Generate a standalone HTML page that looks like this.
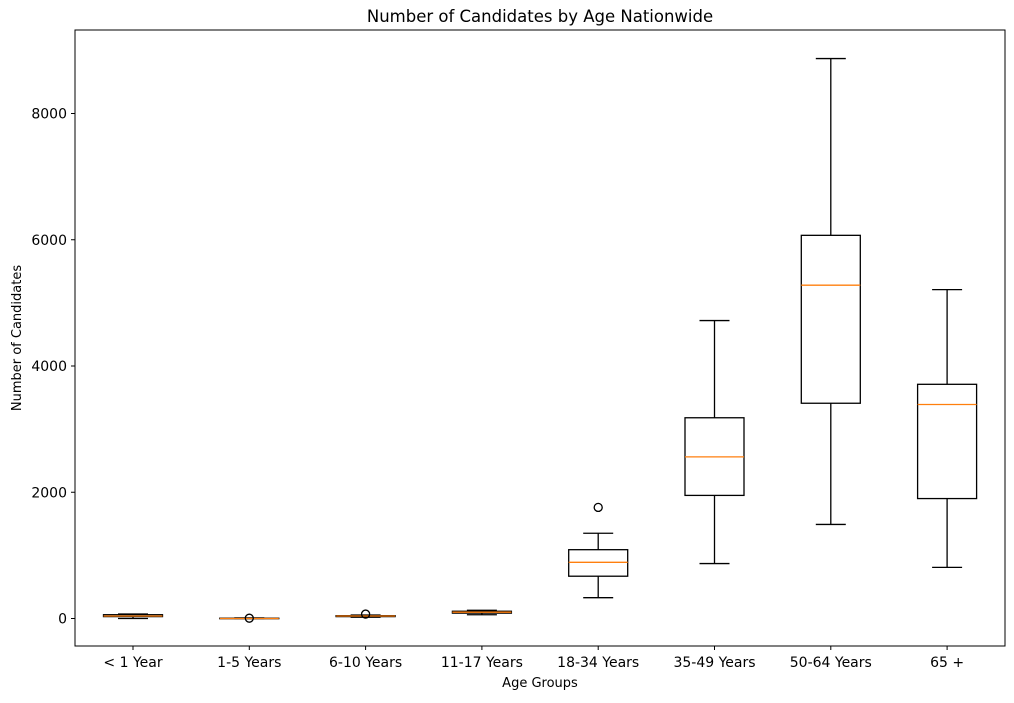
<!DOCTYPE html>
<html><head><meta charset="utf-8"><style>
body{margin:0;background:#fff;font-family:"DejaVu Sans",sans-serif}
</style></head><body>
<svg id="chart" width="1014" height="699" xmlns="http://www.w3.org/2000/svg" font-family="DejaVu Sans, Liberation Sans, sans-serif">
<rect width="1014" height="699" fill="#fff"/>
<text x="540" y="22" text-anchor="middle" font-size="16.5">Number of Candidates by Age Nationwide</text>
<text x="540" y="687" text-anchor="middle" font-size="13">Age Groups</text>
<text transform="translate(21,338) rotate(-90)" text-anchor="middle" font-size="13">Number of Candidates</text>
<g id="marks"></g>
<rect x="75" y="30" width="930" height="616" fill="none" stroke="#000" stroke-width="1"/>
</svg>
<script>
const categories=["< 1 Year","1-5 Years","6-10 Years","11-17 Years","18-34 Years","35-49 Years","50-64 Years","65 +"];
const mins=[0,0,20,60,330,870,1490,810];
const q1s=[30,0,30,85,670,1950,3410,1900];
const medians=[40,0,40,100,890,2560,5280,3390];
const q3s=[60,5,45,115,1090,3180,6070,3710];
const maxs=[70,10,55,130,1350,4720,8870,5210];
const outliers=[[],[5],[70],[],[1760],[],[],[]];
const yTicks=[0,2000,4000,6000,8000];

const ns="http://www.w3.org/2000/svg";
const g=document.getElementById('marks');
const y=v=>618.5-v*0.063125;
const x=i=>133+i*116.3;
function mk(tag,attrs){const e=document.createElementNS(ns,tag);for(const k in attrs)e.setAttribute(k,attrs[k]);g.appendChild(e);return e;}
yTicks.forEach(t=>{
  const l=mk('line',{x1:71,x2:75,y1:y(t),y2:y(t),stroke:'#000'});
  
  
  const tx=mk('text',{x:67,y:y(t)+5,'text-anchor':'end','font-size':14});
  tx.textContent=t;
  
  
});
categories.forEach((c,i)=>{
  const cx=x(i),hw=29.5,cw=15,sw=1.3;
  const l=mk('line',{x1:cx,x2:cx,y1:646,y2:650,stroke:'#000'});
  
  
  const tx=mk('text',{x:cx,y:667,'text-anchor':'middle','font-size':14});
  tx.textContent=c;
  
  
  const w1=mk('line',{x1:cx,x2:cx,y1:y(q1s[i]),y2:y(mins[i]),stroke:'#000','stroke-width':sw});
  
  
  const w2=mk('line',{x1:cx,x2:cx,y1:y(q3s[i]),y2:y(maxs[i]),stroke:'#000','stroke-width':sw});
  
  
  const c1=mk('line',{x1:cx-cw,x2:cx+cw,y1:y(mins[i]),y2:y(mins[i]),stroke:'#000','stroke-width':sw});
  
  
  const c2=mk('line',{x1:cx-cw,x2:cx+cw,y1:y(maxs[i]),y2:y(maxs[i]),stroke:'#000','stroke-width':sw});
  
  
  const b=mk('rect',{x:cx-hw,y:y(q3s[i]),width:2*hw,height:Math.max(0.5,y(q1s[i])-y(q3s[i])),fill:'none',stroke:'#000','stroke-width':sw});
  
  
  const m=mk('line',{x1:cx-hw,x2:cx+hw,y1:y(medians[i]),y2:y(medians[i]),stroke:'#ff7f0e','stroke-width':sw});
  
  
  outliers[i].forEach(o=>{
    const f=mk('circle',{cx:cx,cy:y(o),r:4,fill:'none',stroke:'#000','stroke-width':sw});
    
    
  });
});
</script>
</body></html>
